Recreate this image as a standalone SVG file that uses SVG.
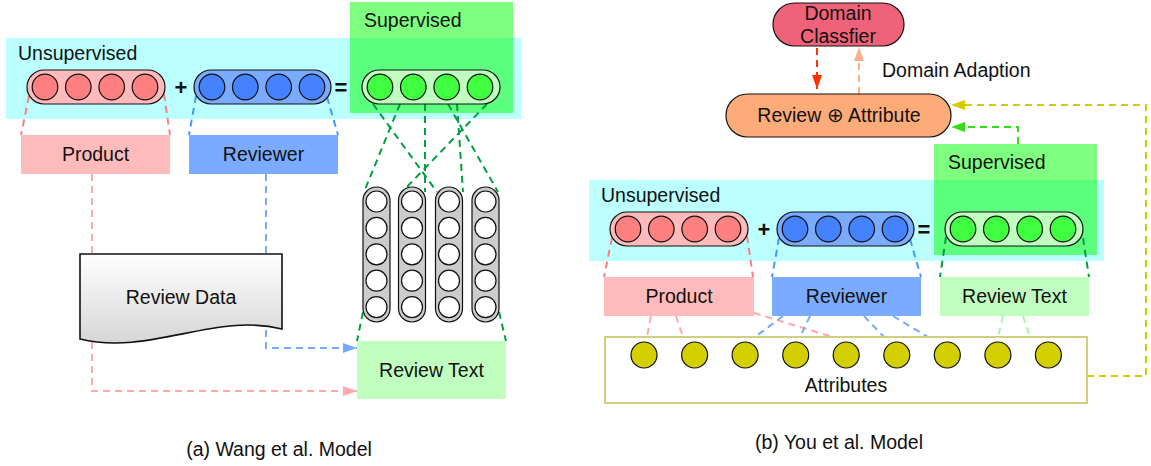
<svg xmlns="http://www.w3.org/2000/svg" width="1151" height="466" viewBox="0 0 1151 466">
<defs>
<style>
.t{font-family:"Liberation Sans",Arial,Helvetica,sans-serif;font-size:19.5px;fill:#111}
.m{text-anchor:middle}
.op{font-family:"Liberation Sans",Arial,sans-serif;font-size:22px;font-weight:bold;fill:#111;text-anchor:middle}
.k{stroke:#111;stroke-width:1.2}
.d{fill:none;stroke-width:2;stroke-dasharray:7,5}
.pk{stroke:#F88080}
.pl{stroke:#FFAAAA}
.bk{stroke:#3D9BFF}
.bl{stroke:#77AAFF}
.gk{stroke:#00A040}
.gl{stroke:#A8F5A8}
.cyan{fill:#BBFFFF}
.grn{fill:#00FF00;fill-opacity:0.5}
</style>
<linearGradient id="doc" x1="0" y1="0" x2="0" y2="1"><stop offset="0" stop-color="#ffffff"/><stop offset="1" stop-color="#d6d6d6"/></linearGradient>
<marker id="mb" markerWidth="14" markerHeight="10" refX="14" refY="5" orient="auto" markerUnits="userSpaceOnUse"><path d="M0,0 L14,5 L0,10 z" fill="#77AAFF"/></marker>
<marker id="mp" markerWidth="14" markerHeight="10" refX="14" refY="5" orient="auto" markerUnits="userSpaceOnUse"><path d="M0,0 L14,5 L0,10 z" fill="#FFAAAA"/></marker>
<marker id="mr" markerWidth="14" markerHeight="10" refX="14" refY="5" orient="auto" markerUnits="userSpaceOnUse"><path d="M0,0 L14,5 L0,10 z" fill="#FF3300"/></marker>
<marker id="ms" markerWidth="14" markerHeight="10" refX="14" refY="5" orient="auto" markerUnits="userSpaceOnUse"><path d="M0,0 L14,5 L0,10 z" fill="#FFB088"/></marker>
<marker id="my" markerWidth="14" markerHeight="10" refX="14" refY="5" orient="auto" markerUnits="userSpaceOnUse"><path d="M0,0 L14,5 L0,10 z" fill="#D4CC00"/></marker>
<marker id="mg" markerWidth="14" markerHeight="10" refX="14" refY="5" orient="auto" markerUnits="userSpaceOnUse"><path d="M0,0 L14,5 L0,10 z" fill="#33DD11"/></marker>
</defs>

<!-- regions -->
<g id="unsup-a"><rect class="cyan" x="6" y="38" width="515" height="81"/><text class="t" x="18" y="60">Unsupervised</text></g>
<g id="sup-a"><rect class="grn" x="350" y="2" width="163" height="111"/><text class="t" x="364" y="27">Supervised</text></g>
<g id="unsup-b"><rect class="cyan" x="589" y="180" width="515" height="81"/><text class="t" x="601" y="202">Unsupervised</text></g>
<g id="sup-b"><rect class="grn" x="934" y="144" width="163" height="111"/><text class="t" x="948" y="169">Supervised</text></g>

<!-- connectors -->
<g id="connectors">
<path class="d pk" d="M29,96 L21,135 M164,94 L170,135"/>
<path class="d bk" d="M196,96 L189,135 M327,97 L338,135"/>
<path class="d pk" d="M612,238 L604,277 M747,236 L753,277"/>
<path class="d bk" d="M779,238 L772,277 M910,239 L921,277"/>
<path class="d gk" d="M946,237 L940,277 M1083,238 L1089,277"/>
<path class="d gk" d="M373,104 L437,192 M400,104 L364,192 M425,104 L425,192 M448,104 L498,192 M457,104 L463,192 M487,104 L402,192"/>
<path class="d gk" d="M363,312 L357,341 M499,312 L506,341"/>
<path class="d pl" d="M92,174 V391 H357" marker-end="url(#mp)"/>
<path class="d bl" d="M266,174 V348 H357" marker-end="url(#mb)"/>
<path class="d pl" d="M651,316 L647,337 M676,316 L683,337 M754,313 L833,337"/>
<path class="d bl" d="M783,316 L755,337 M810,316 L800,337 M864,316 L884,337 M893,316 L928,337"/>
<path class="d gl" d="M1003,316 L998,337 M1023,316 L1030,337"/>
<path class="d" stroke="#FF3300" d="M817,48 V89" marker-end="url(#mr)"/>
<path class="d" stroke="#FFB088" d="M859,94 V47" marker-end="url(#ms)"/>
<path class="d" stroke="#D4CC00" stroke-dasharray="9,5" d="M1087,376 H1146 V105 H951" marker-end="url(#my)"/>
<path class="d" stroke="#33DD11" d="M1018,144 V127 H951" marker-end="url(#mg)"/>
</g>

<!-- left model -->
<g id="vec-product-a">
<rect class="k" x="27" y="70" width="138" height="34" rx="17" fill="#FFBBBB"/>
<g class="k" fill="#FF8080"><circle cx="45" cy="87" r="12.8"/><circle cx="78.3" cy="87" r="12.8"/><circle cx="111.7" cy="87" r="12.8"/><circle cx="145" cy="87" r="12.8"/></g>
</g>
<g id="plus-a"><text class="op" x="181" y="95">+</text></g>
<g id="vec-reviewer-a">
<rect class="k" x="194" y="70" width="137" height="34" rx="17" fill="#7AABFF"/>
<g class="k" fill="#4482FF"><circle cx="212" cy="87" r="12.8"/><circle cx="245.3" cy="87" r="12.8"/><circle cx="278.7" cy="87" r="12.8"/><circle cx="312" cy="87" r="12.8"/></g>
</g>
<g id="eq-a"><text class="op" x="341" y="95">=</text></g>
<g id="vec-text-a">
<rect class="k" x="362" y="70" width="138" height="34" rx="17" fill="#C0FFC0"/>
<g class="k" fill="#40FF40"><circle cx="380" cy="87" r="12.8"/><circle cx="413.3" cy="87" r="12.8"/><circle cx="446.7" cy="87" r="12.8"/><circle cx="480" cy="87" r="12.8"/></g>
</g>
<g id="product-a"><rect x="21" y="135" width="149" height="39" fill="#FFBBBB"/><text class="t m" x="95.5" y="161">Product</text></g>
<g id="reviewer-a"><rect x="189" y="135" width="149" height="39" fill="#7AABFF"/><text class="t m" x="263.5" y="161">Reviewer</text></g>
<g id="review-data"><path d="M80,254 H282 V329 C215,312 150,356 80,339 Z" fill="url(#doc)" stroke="#111" stroke-width="1.6"/><text class="t m" x="181" y="304">Review Data</text></g>
<g id="words">
<g class="k" fill="#CCCCCC"><rect x="363" y="187" width="27" height="135" rx="13.5"/><rect x="398.5" y="187" width="27" height="135" rx="13.5"/><rect x="435.5" y="187" width="27" height="135" rx="13.5"/><rect x="472" y="187" width="27" height="135" rx="13.5"/></g>
<g class="k" fill="#FFFFFF">
<circle cx="376.5" cy="201.5" r="10.5"/><circle cx="376.5" cy="227.9" r="10.5"/><circle cx="376.5" cy="254.3" r="10.5"/><circle cx="376.5" cy="280.7" r="10.5"/><circle cx="376.5" cy="307.1" r="10.5"/>
<circle cx="412" cy="201.5" r="10.5"/><circle cx="412" cy="227.9" r="10.5"/><circle cx="412" cy="254.3" r="10.5"/><circle cx="412" cy="280.7" r="10.5"/><circle cx="412" cy="307.1" r="10.5"/>
<circle cx="449" cy="201.5" r="10.5"/><circle cx="449" cy="227.9" r="10.5"/><circle cx="449" cy="254.3" r="10.5"/><circle cx="449" cy="280.7" r="10.5"/><circle cx="449" cy="307.1" r="10.5"/>
<circle cx="485.5" cy="201.5" r="10.5"/><circle cx="485.5" cy="227.9" r="10.5"/><circle cx="485.5" cy="254.3" r="10.5"/><circle cx="485.5" cy="280.7" r="10.5"/><circle cx="485.5" cy="307.1" r="10.5"/>
</g>
</g>
<g id="review-text-a"><rect x="357" y="341" width="149" height="58" fill="#C0FFC0"/><text class="t m" x="431.5" y="377">Review Text</text></g>
<g id="caption-a"><text class="t m" x="279" y="456">(a) Wang et al. Model</text></g>

<!-- right model -->
<g id="domain-classifier"><rect x="773" y="3" width="131" height="43" rx="21.5" fill="#F0627A" stroke="#111" stroke-width="1.2"/><text class="t m" x="838" y="20">Domain</text><text class="t m" x="838" y="43">Classfier</text></g>
<g id="domain-adaption-label"><text class="t" x="882" y="77">Domain Adaption</text></g>
<g id="review-attribute"><rect x="726" y="94" width="225" height="43" rx="21.5" fill="#FDAB78" stroke="#111" stroke-width="1.2"/><text class="t m" x="839" y="122">Review ⊕ Attribute</text></g>
<g id="vec-product-b" transform="translate(583,142)">
<rect class="k" x="27" y="70" width="138" height="34" rx="17" fill="#FFBBBB"/>
<g class="k" fill="#FF8080"><circle cx="45" cy="87" r="12.8"/><circle cx="78.3" cy="87" r="12.8"/><circle cx="111.7" cy="87" r="12.8"/><circle cx="145" cy="87" r="12.8"/></g>
</g>
<g id="plus-b"><text class="op" x="764" y="237">+</text></g>
<g id="vec-reviewer-b" transform="translate(583,142)">
<rect class="k" x="194" y="70" width="137" height="34" rx="17" fill="#7AABFF"/>
<g class="k" fill="#4482FF"><circle cx="212" cy="87" r="12.8"/><circle cx="245.3" cy="87" r="12.8"/><circle cx="278.7" cy="87" r="12.8"/><circle cx="312" cy="87" r="12.8"/></g>
</g>
<g id="eq-b"><text class="op" x="924" y="237">=</text></g>
<g id="vec-text-b" transform="translate(583,142)">
<rect class="k" x="362" y="70" width="138" height="34" rx="17" fill="#C0FFC0"/>
<g class="k" fill="#40FF40"><circle cx="380" cy="87" r="12.8"/><circle cx="413.3" cy="87" r="12.8"/><circle cx="446.7" cy="87" r="12.8"/><circle cx="480" cy="87" r="12.8"/></g>
</g>
<g id="product-b"><rect x="604" y="277" width="150" height="39" fill="#FFBBBB"/><text class="t m" x="679" y="303">Product</text></g>
<g id="reviewer-b"><rect x="772" y="277" width="149" height="39" fill="#7AABFF"/><text class="t m" x="846.5" y="303">Reviewer</text></g>
<g id="review-text-b"><rect x="940" y="277" width="149" height="39" fill="#C0FFC0"/><text class="t m" x="1014.5" y="303">Review Text</text></g>
<g id="attributes">
<rect x="605" y="337" width="482" height="66" fill="#FFFFFF" stroke="#D2CE80" stroke-width="2"/>
<g class="k" fill="#D4CF00">
<circle cx="644" cy="355" r="13"/><circle cx="694.6" cy="355" r="13"/><circle cx="745.1" cy="355" r="13"/><circle cx="795.7" cy="355" r="13"/><circle cx="846.2" cy="355" r="13"/><circle cx="896.8" cy="355" r="13"/><circle cx="947.3" cy="355" r="13"/><circle cx="997.9" cy="355" r="13"/><circle cx="1048.4" cy="355" r="13"/>
</g>
<text class="t m" x="846" y="392">Attributes</text>
</g>
<g id="caption-b"><text class="t m" x="839" y="449">(b) You et al. Model</text></g>
</svg>
